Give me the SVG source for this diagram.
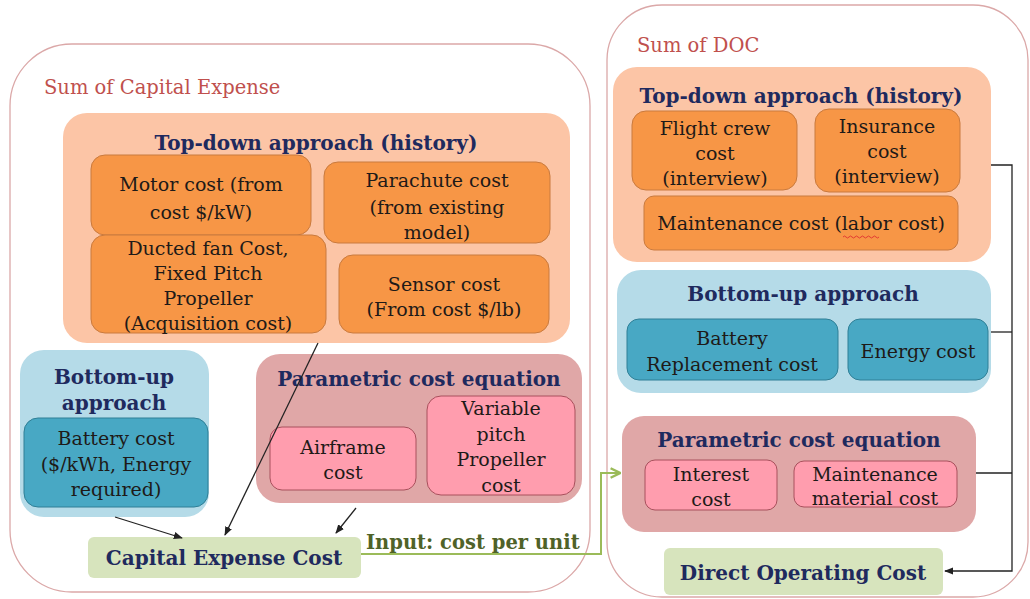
<svg xmlns="http://www.w3.org/2000/svg" width="1030" height="599" viewBox="0 0 1030 599">
<style>
text{font-family:"DejaVu Serif","Liberation Serif",serif;text-anchor:middle}
.sum{fill:#fff;stroke:#dba8a8;stroke-width:1.3}
.lbl{fill:#c0504d;font-size:19.5px;text-anchor:start}
.ttl{fill:#1f2a5e;font-weight:bold;font-size:20px}
.txt{fill:#1e1a18;font-size:19px}
.td{fill:#fcc5a6}
.tdi{fill:#f79646;stroke:#c97a3e;stroke-width:1}
.bu{fill:#b5dbe8}
.bui{fill:#48a8c4;stroke:#2f7f96;stroke-width:1}
.pc{fill:#e0a7a7}
.pci{fill:#ff9dae;stroke:#a8505c;stroke-width:1}
.gr{fill:#d7e4bd}
.blk{stroke:#222;stroke-width:1.3;fill:none}
.grn{stroke:#9bbb59;stroke-width:2;fill:none}
</style>
<defs>
<marker id="ab" viewBox="0 0 10 10" refX="9" refY="5" markerWidth="7" markerHeight="7" orient="auto"><path d="M0,1 L10,5 L0,9 z" fill="#222"/></marker>
<marker id="ag" viewBox="0 0 10 10" refX="8" refY="5" markerWidth="6" markerHeight="6" orient="auto"><path d="M1,1 L9,5 L1,9" fill="none" stroke="#9bbb59" stroke-width="2"/></marker>
</defs>

<g id="capex-group">
<rect class="sum" x="10" y="44" width="580" height="548" rx="62"/>
<text class="lbl" x="44" y="94">Sum of Capital Expense</text>
</g>
<g id="doc-group">
<rect class="sum" x="607" y="5" width="421" height="592" rx="55"/>
<text class="lbl" x="637" y="52">Sum of DOC</text>
</g>

<g id="topdown-left">
<rect class="td" x="63" y="113" width="507" height="230" rx="24"/>
<text class="ttl" x="316" y="150">Top-down approach (history)</text>
</g>
<g id="motor">
<rect class="tdi" x="91" y="155" width="220" height="80" rx="14"/>
<text class="txt" x="201" y="191">Motor cost (from</text>
<text class="txt" x="201" y="219">cost $/kW)</text>
</g>
<g id="parachute">
<rect class="tdi" x="324" y="162" width="226" height="81" rx="14"/>
<text class="txt" x="437" y="187">Parachute cost</text>
<text class="txt" x="437" y="214">(from existing</text>
<text class="txt" x="437" y="239">model)</text>
</g>
<g id="ducted">
<rect class="tdi" x="91" y="235" width="235" height="98" rx="14"/>
<text class="txt" x="208" y="255">Ducted fan Cost,</text>
<text class="txt" x="208" y="280">Fixed Pitch</text>
<text class="txt" x="208" y="305">Propeller</text>
<text class="txt" x="208" y="330">(Acquisition cost)</text>
</g>
<g id="sensor">
<rect class="tdi" x="339" y="255" width="210" height="78" rx="14"/>
<text class="txt" x="444" y="291">Sensor cost</text>
<text class="txt" x="444" y="316">(From cost $/lb)</text>
</g>

<g id="bottomup-left">
<rect class="bu" x="20" y="350" width="189" height="167" rx="24"/>
<text class="ttl" x="114" y="384">Bottom-up</text>
<text class="ttl" x="114" y="410">approach</text>
</g>
<g id="battery">
<rect class="bui" x="24" y="418" width="184" height="89" rx="14"/>
<text class="txt" x="116" y="445">Battery cost</text>
<text class="txt" x="116" y="471">($/kWh, Energy</text>
<text class="txt" x="116" y="496">required)</text>
</g>

<g id="param-left">
<rect class="pc" x="256" y="354" width="326" height="149" rx="24"/>
<text class="ttl" x="419" y="386">Parametric cost equation</text>
</g>
<g id="airframe">
<rect class="pci" x="270" y="427" width="146" height="63" rx="12"/>
<text class="txt" x="343" y="454">Airframe</text>
<text class="txt" x="343" y="479">cost</text>
</g>
<g id="varpitch">
<rect class="pci" x="427" y="396" width="148" height="99" rx="14"/>
<text class="txt" x="501" y="415">Variable</text>
<text class="txt" x="501" y="441">pitch</text>
<text class="txt" x="501" y="466">Propeller</text>
<text class="txt" x="501" y="492">cost</text>
</g>

<g id="capex-cost">
<rect class="gr" x="88" y="537" width="273" height="41" rx="6"/>
<text class="ttl" x="224" y="565">Capital Expense Cost</text>
</g>

<g id="topdown-right">
<rect class="td" x="613" y="67" width="378" height="195" rx="24"/>
<text class="ttl" x="801" y="103">Top-down approach (history)</text>
</g>
<g id="flightcrew">
<rect class="tdi" x="632" y="111" width="165" height="79" rx="14"/>
<text class="txt" x="715" y="135">Flight crew</text>
<text class="txt" x="715" y="160">cost</text>
<text class="txt" x="715" y="185">(interview)</text>
</g>
<g id="insurance">
<rect class="tdi" x="815" y="109" width="145" height="83" rx="14"/>
<text class="txt" x="887" y="133">Insurance</text>
<text class="txt" x="887" y="158">cost</text>
<text class="txt" x="887" y="183">(interview)</text>
</g>
<g id="maintenance">
<rect class="tdi" x="644" y="196" width="314" height="54" rx="10"/>
<text class="txt" x="801" y="230">Maintenance cost (labor cost)</text>
<path d="M843,237 q1.5,-2 3,0 t3,0 t3,0 t3,0 t3,0 t3,0 t3,0 t3,0 t3,0 t3,0 t3,0 t3,0" fill="none" stroke="#e03030" stroke-width="0.9"/>
</g>

<g id="bottomup-right">
<rect class="bu" x="617" y="270" width="374" height="123" rx="24"/>
<text class="ttl" x="803" y="301">Bottom-up approach</text>
</g>
<g id="battrepl">
<rect class="bui" x="627" y="319" width="211" height="61" rx="12"/>
<text class="txt" x="732" y="345">Battery</text>
<text class="txt" x="732" y="371">Replacement cost</text>
</g>
<g id="energy">
<rect class="bui" x="848" y="319" width="140" height="61" rx="12"/>
<text class="txt" x="918" y="358">Energy cost</text>
</g>

<g id="param-right">
<rect class="pc" x="622" y="416" width="354" height="116" rx="22"/>
<text class="ttl" x="799" y="447">Parametric cost equation</text>
</g>
<g id="interest">
<rect class="pci" x="645" y="460" width="132" height="50" rx="10"/>
<text class="txt" x="711" y="481">Interest</text>
<text class="txt" x="711" y="506">cost</text>
</g>
<g id="maintmat">
<rect class="pci" x="794" y="461" width="163" height="46" rx="10"/>
<text class="txt" x="875" y="481">Maintenance</text>
<text class="txt" x="875" y="505">material cost</text>
</g>

<g id="doc-cost">
<rect class="gr" x="664" y="548" width="279" height="47" rx="6"/>
<text class="ttl" x="803" y="580">Direct Operating Cost</text>
</g>

<g id="connectors">
<line class="blk" x1="318" y1="343" x2="225" y2="535" marker-end="url(#ab)"/>
<line class="blk" x1="115" y1="517" x2="182" y2="538" marker-end="url(#ab)"/>
<line class="blk" x1="356" y1="508" x2="336" y2="533" marker-end="url(#ab)"/>
<polyline class="grn" points="361,554 601,554 601,473 619,473" marker-end="url(#ag)"/>
<text x="366" y="549" style="fill:#4f6228;font-weight:bold;font-size:19.5px;text-anchor:start">Input: cost per unit</text>
<polyline class="blk" points="991,165 1012,165 1012,571 945,571" marker-end="url(#ab)"/>
<line class="blk" x1="991" y1="332" x2="1012" y2="332"/>
<line class="blk" x1="976" y1="473" x2="1012" y2="473"/>
</g>
</svg>
